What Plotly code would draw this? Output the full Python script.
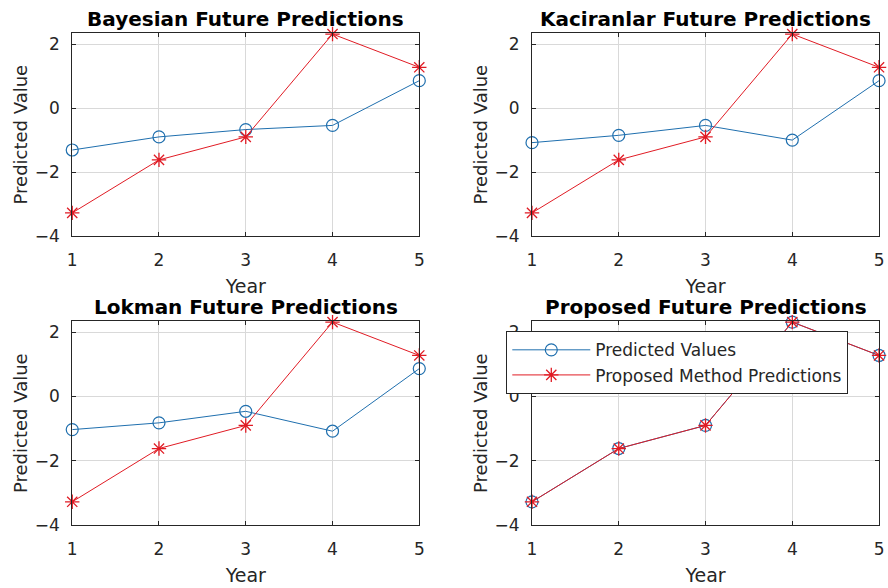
import plotly.graph_objects as go

# Forecast horizon and the series for each method
years = [1, 2, 3, 4, 5]
proposed = [-3.28, -1.62, -0.90, 2.32, 1.28]
bayesian = [-1.31, -0.90, -0.67, -0.54, 0.86]
kaciranlar = [-1.08, -0.85, -0.54, -1.00, 0.86]
lokman = [-1.03, -0.82, -0.46, -1.08, 0.87]

titles = ["Bayesian Future Predictions", "Kaciranlar Future Predictions",
          "Lokman Future Predictions", "Proposed Future Predictions"]
panel_series = [bayesian, kaciranlar, lokman, proposed]
y_ticks = [-4, -2, 0, 2]

BLUE = "#1f6fae"
RED = "#e01b24"
AXIS = "#262626"
GRID = "#d9d9d9"
FONT = "DejaVu Sans"

W, H = 888, 588
# panel boxes in pixels: (left, right, top, bottom)
boxes = [(68, 419, 34, 240), (533, 884, 34, 240),
         (68, 419, 327, 534), (533, 884, 327, 534)]

fig = go.Figure()
annotations = []

for i, (series, title, box) in enumerate(zip(panel_series, titles, boxes)):
    n = i + 1
    xa = "x" if n == 1 else f"x{n}"
    ya = "y" if n == 1 else f"y{n}"
    last = n == 4
    fig.add_trace(go.Scatter(
        x=years, y=series, xaxis=xa, yaxis=ya, mode="lines+markers",
        name="Predicted Values", showlegend=last, cliponaxis=False,
        line=dict(color=BLUE, width=1),
        marker=dict(symbol="circle-open", size=12, color=BLUE,
                    line=dict(width=1.2, color=BLUE)),
    ))
    fig.add_trace(go.Scatter(
        x=years, y=proposed, xaxis=xa, yaxis=ya, mode="lines+markers",
        name="Proposed Method Predictions", showlegend=last, cliponaxis=False,
        line=dict(color=RED, width=1),
        marker=dict(symbol="asterisk-open", size=12, color=RED,
                    line=dict(width=1.3, color=RED)),
    ))

    l, r, t, b = box
    dom_x = [l / W, r / W]
    dom_y = [(H - b) / H, (H - t) / H]
    axis_common = dict(showline=True, linecolor=AXIS, linewidth=1, mirror="allticks",
                       ticks="inside", ticklen=4, tickcolor=AXIS,
                       showgrid=True, gridcolor=GRID, gridwidth=1, zeroline=False,
                       tickfont=dict(family=FONT, size=17, color="#262626"))
    fig.layout[f"xaxis{'' if n == 1 else n}"] = dict(
        domain=dom_x, anchor=ya, range=[1, 5], tickvals=years, ticklabelstandoff=9,
        title=dict(text="Year", font=dict(family=FONT, size=19, color="#262626"), standoff=10),
        **axis_common)
    fig.layout[f"yaxis{'' if n == 1 else n}"] = dict(
        domain=dom_y, anchor=xa, range=[-4, 2.34], tickvals=y_ticks, ticklabelstandoff=8,
        title=dict(text="Predicted Value", font=dict(family=FONT, size=18, color="#262626"), standoff=2),
        **axis_common)

    annotations.append(dict(
        text=f"<b>{title}</b>", x=(l + r) / 2 / W, y=(H - t) / H,
        xref="paper", yref="paper", xanchor="center", yanchor="bottom",
        yshift=0, showarrow=False,
        font=dict(family=FONT, size=20, color="#000000")))

fig.update_layout(
    width=W, height=H, margin=dict(l=0, r=0, t=0, b=0),
    paper_bgcolor="white", plot_bgcolor="white",
    annotations=annotations,
    legend=dict(x=507 / W, y=(H - 337) / H, xanchor="left", yanchor="top",
                bgcolor="white", bordercolor="#262626", borderwidth=1,
                font=dict(family=FONT, size=17, color="#262626"),
                itemwidth=78, tracegroupgap=0, valign="middle"),
)

fig.write_html("out.html")
